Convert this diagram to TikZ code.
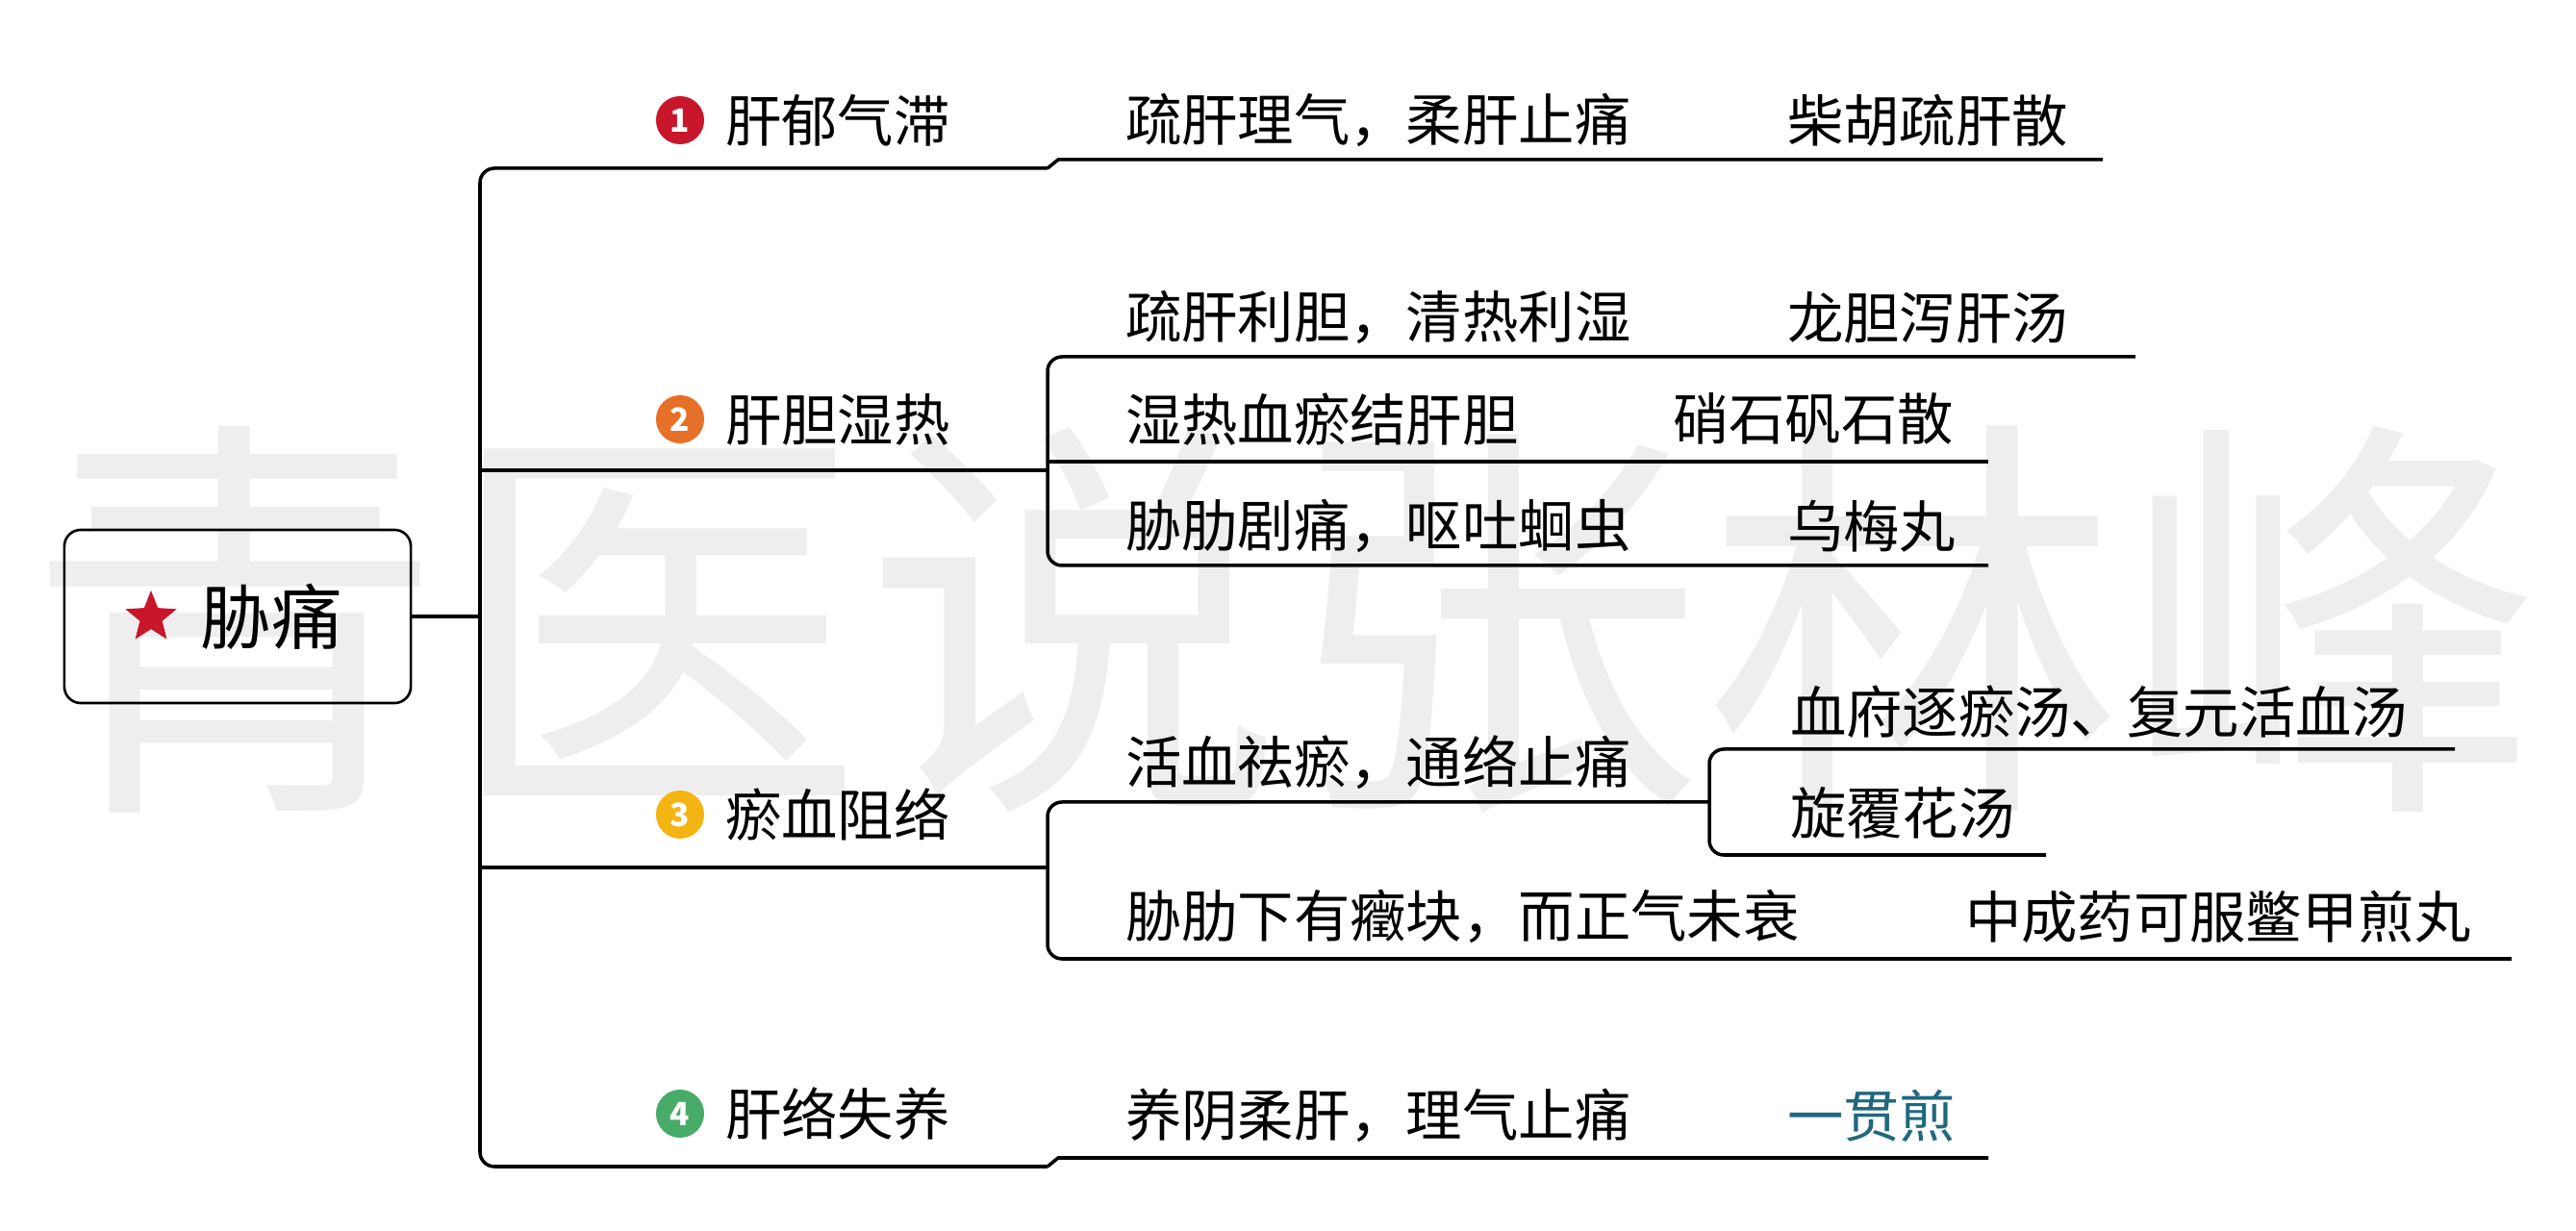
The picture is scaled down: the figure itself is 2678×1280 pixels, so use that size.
\documentclass[tikz,border=0pt]{standalone}
\usepackage{fontspec}
\setmainfont{Noto Sans CJK SC}
\usetikzlibrary{shapes.geometric}

\definecolor{markred}{RGB}{200,22,42}
\definecolor{markorange}{RGB}{230,112,40}
\definecolor{markyellow}{RGB}{244,180,18}
\definecolor{markgreen}{RGB}{72,172,104}
\definecolor{rxblue}{RGB}{32,104,126}
\definecolor{wmgray}{RGB}{238,238,238}

\begin{document}
\begin{tikzpicture}[x=0.01cm, y=-0.01cm,
  every node/.style={inner sep=0pt, outer sep=0pt},
  topic/.style={anchor=west, font=\fontsize{16.6}{18}\selectfont},
  num node/.style={circle, fill=#1, minimum size=0.5cm, text=white,
    font=\fontsize{9.5}{9.5}\selectfont\bfseries},
  link/.style={line width=1pt, rounded corners=0.15cm}]
\useasboundingbox (0,0) rectangle (2678,1280);

% watermark
\node[text=wmgray, font=\fontsize{124}{124}\selectfont] (mark) at (1335,645) {青医说张林峰};

% root
\node[draw, line width=0.75pt, rounded corners=0.17cm, minimum width=3.6cm, minimum height=1.8cm] (root) at (247,641) {};
\node[star, star points=5, star point ratio=2.3, fill=markred, minimum size=0.56cm] (star) at (157,642) {};
\node[font=\fontsize{21}{22}\selectfont] (main) at (282,641) {胁痛};

% first level
\node[num node=markred]    (n1) at (707,125)  {1};
\node[num node=markorange] (n2) at (707,436)  {2};
\node[num node=markyellow] (n3) at (707,847)  {3};
\node[num node=markgreen]  (n4) at (707,1158) {4};
\node[topic] (k1) at (754,125)  {肝郁气滞};
\node[topic] (k2) at (754,436)  {肝胆湿热};
\node[topic] (k3) at (754,847)  {瘀血阻络};
\node[topic] (k4) at (754,1158) {肝络失养};

% second level
\node[topic] (z1)  at (1170,125)  {疏肝理气，柔肝止痛};
\node[topic] (z2a) at (1170,330)  {疏肝利胆，清热利湿};
\node[topic] (z2b) at (1170,436)  {湿热血瘀结肝胆};
\node[topic] (z2c) at (1170,547)  {胁肋剧痛，呕吐蛔虫};
\node[topic] (z3a) at (1170,793)  {活血祛瘀，通络止痛};
\node[topic] (z3b) at (1170,953)  {胁肋下有癥块，而正气未衰};
\node[topic] (z4)  at (1170,1160) {养阴柔肝，理气止痛};

% formulas
\node[topic] (f1)   at (1858,125)  {柴胡疏肝散};
\node[topic] (f2a)  at (1858,330)  {龙胆泻肝汤};
\node[topic] (f2b)  at (1739,436)  {硝石矾石散};
\node[topic] (f2c)  at (1858,547)  {乌梅丸};
\node[topic] (f3a1) at (1861,740)  {血府逐瘀汤、复元活血汤};
\node[topic] (f3a2) at (1861,845)  {旋覆花汤};
\node[topic] (f3b)  at (2043,953)  {中成药可服鳖甲煎丸};
\node[topic, text=rxblue] (f4) at (1858,1160) {一贯煎};

% junctions and line ends
\coordinate (t0) at (499,641);
\coordinate (b1) at (1089,175);
\coordinate (b2) at (1089,489);
\coordinate (b3) at (1089,902);
\coordinate (b4) at (1089,1213);
\coordinate (s3) at (1777,834);
\coordinate (e1) at (2186,166);
\coordinate (e2a) at (2220,371);
\coordinate (e2b) at (2067,480);
\coordinate (e2c) at (2067,588);
\coordinate (e3a1) at (2552,779);
\coordinate (e3a2) at (2127,889);
\coordinate (e3b) at (2611,997);
\coordinate (e4) at (2067,1204);

\draw[link] (root.east) -- (t0);
\draw[link] (b1) -| (t0) |- (b4);
\draw[link] (t0 |- b2) -- (b2);
\draw[link] (t0 |- b3) -- (b3);
\draw[link, sharp corners] (b1) -- ++(11,-9) -- (e1);
\draw[link] (e2a) -| (b2) |- (e2c);
\draw[link] (b2 |- e2b) -- (e2b);
\draw[link] (s3) -| (b3) |- (e3b);
\draw[link] (e3a1) -| (s3) |- (e3a2);
\draw[link, sharp corners] (b4) -- ++(11,-9) -- (e4);
\end{tikzpicture}
\end{document}
